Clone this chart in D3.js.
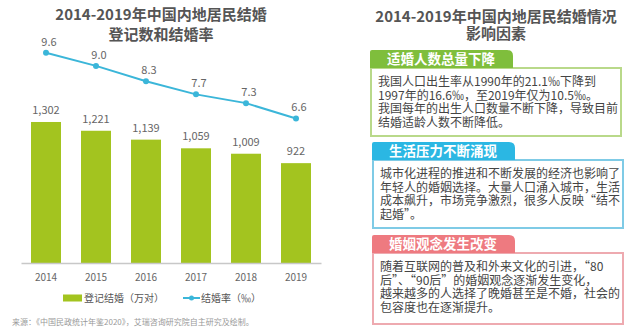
<!DOCTYPE html>
<html>
<head>
<meta charset="utf-8">
<script src="https://cdn.jsdelivr.net/npm/d3@7"></script>
<style>
  body { margin: 0; background: #fff; }
  svg { font-family: "Noto Sans CJK SC", "Noto Sans", sans-serif; display: block; }
</style>
</head>
<body>
<div id="chart"></div>
<script>
// chart data
const years = ["2014", "2015", "2016", "2017", "2018", "2019"];
const marriages = [1302, 1221, 1139, 1059, 1009, 922];   // 万对
const rates = [9.6, 9.0, 8.3, 7.7, 7.3, 6.6];             // ‰
const leftTitle = ["2014-2019年中国内地居民结婚", "登记数和结婚率"];
const legendNames = ["登记结婚（万对）", "结婚率（‰）"];
const sourceNote = "来源：《中国民政统计年鉴2020》，艾瑞咨询研究院自主研究及绘制。";

// right panel text
const rightTitle = ["2014-2019年中国内地居民结婚情况", "影响因素"];
const factorTitles = ["适婚人数总量下降", "生活压力不断涌现", "婚姻观念发生改变"];
const factorLines = [
    ["我国人口出生率从1990年的21.1‰下降到",
     "1997年的16.6‰，至2019年仅为10.5‰。",
     "我国每年的出生人口数量不断下降，导致目前",
     "结婚适龄人数不断降低。"],
    ["城市化进程的推进和不断发展的经济也影响了",
     "年轻人的婚姻选择。大量人口涌入城市，生活",
     "成本飙升，市场竞争激烈，很多人反映“结不",
     "起婚”。"],
    ["随着互联网的普及和外来文化的引进，“80",
     "后”、“90后”的婚姻观念逐渐发生变化，",
     "越来越多的人选择了晚婚甚至是不婚，社会的",
     "包容度也在逐渐提升。"]
];

const barColor = "#a3c41f",
      lineColor = "#3bb6d9",
      tabColors = ["#7fbe3c", "#2bb7e3", "#ee7a80"],
      borderColors = ["#b9d98a", "#7fcbe6", "#eeaab0"];

const W = 641, H = 330;
const svg = d3.select("#chart").append("svg")
    .attr("width", W)
    .attr("height", H);

// ---- left chart ----
const x = d3.scaleBand()
    .domain(years)
    .range([21, 321])
    .paddingInner(0.4)
    .paddingOuter(0.2);
const yBar = d3.scaleLinear().domain([0, 2000]).range([263, 46.4]);
const yLine = d3.scaleLinear().domain([0, 12]).range([263, 0.2]);

svg.selectAll(".ltitle")
    .data(leftTitle)
    .join("text")
    .attr("class", "ltitle")
    .attr("x", 161)
    .attr("y", (d, i) => 20 + i * 20)
    .attr("text-anchor", "middle")
    .attr("font-size", 15)
    .attr("font-weight", "bold")
    .attr("fill", "#555")
    .text(d => d);

svg.selectAll(".bar")
    .data(marriages)
    .join("rect")
    .attr("class", "bar")
    .attr("x", (d, i) => x(years[i]))
    .attr("y", d => yBar(d))
    .attr("width", x.bandwidth())
    .attr("height", d => yBar(0) - yBar(d))
    .attr("fill", barColor);

svg.selectAll(".barlabel")
    .data(marriages)
    .join("text")
    .attr("class", "barlabel")
    .attr("x", (d, i) => x(years[i]) + x.bandwidth() / 2)
    .attr("y", d => yBar(d) - 8)
    .attr("text-anchor", "middle")
    .attr("font-size", 11)
    .attr("fill", "#666")
    .text(d => d3.format(",")(d));

const axis = svg.append("g")
    .attr("transform", "translate(0,263)")
    .call(d3.axisBottom(x).tickSize(0).tickPadding(11));
axis.select(".domain").attr("stroke", "#c8c8c8").attr("stroke-width", 1.5);
axis.selectAll("text")
    .attr("font-size", 10)
    .attr("fill", "#666")
    .attr("font-family", "'Noto Sans CJK SC', sans-serif");

const line = d3.line()
    .x((d, i) => x(years[i]) + x.bandwidth() / 2)
    .y(d => yLine(d));

svg.append("path")
    .datum(rates)
    .attr("d", line)
    .attr("fill", "none")
    .attr("stroke", lineColor)
    .attr("stroke-width", 2);

svg.selectAll(".dot")
    .data(rates)
    .join("circle")
    .attr("class", "dot")
    .attr("cx", (d, i) => x(years[i]) + x.bandwidth() / 2)
    .attr("cy", d => yLine(d))
    .attr("r", 3)
    .attr("fill", lineColor);

svg.selectAll(".ratelabel")
    .data(rates)
    .join("text")
    .attr("class", "ratelabel")
    .attr("x", (d, i) => x(years[i]) + x.bandwidth() / 2 + 3)
    .attr("y", d => yLine(d) - 7)
    .attr("text-anchor", "middle")
    .attr("font-size", 11)
    .attr("fill", "#666")
    .text(d => d.toFixed(1));

// legend
const legend = svg.append("g").attr("transform", "translate(0,298)");
legend.append("rect")
    .attr("x", 63).attr("y", -3.5)
    .attr("width", 19).attr("height", 7)
    .attr("fill", barColor);
legend.append("text")
    .attr("x", 84).attr("y", 3.5)
    .attr("font-size", 10).attr("fill", "#555")
    .text(legendNames[0]);
legend.append("line")
    .attr("x1", 183).attr("x2", 200)
    .attr("stroke", lineColor).attr("stroke-width", 2);
legend.append("circle")
    .attr("cx", 191.5).attr("r", 2.5)
    .attr("fill", lineColor);
legend.append("text")
    .attr("x", 201).attr("y", 3.5)
    .attr("font-size", 10).attr("fill", "#555")
    .text(legendNames[1]);

svg.append("text")
    .attr("x", 12).attr("y", 325)
    .attr("font-size", 8)
    .attr("fill", "#999")
    .text(sourceNote);

// ---- right panel ----
svg.selectAll(".rtitle")
    .data(rightTitle)
    .join("text")
    .attr("class", "rtitle")
    .attr("x", 496)
    .attr("y", (d, i) => 22 + i * 17)
    .attr("text-anchor", "middle")
    .attr("font-size", 15)
    .attr("font-weight", "bold")
    .attr("fill", "#555")
    .text(d => d);

const tabTops = [50, 142, 235];
const boxes = svg.selectAll(".factor")
    .data(factorTitles)
    .join("g")
    .attr("class", "factor")
    .attr("transform", (d, i) => `translate(${i === 0 ? 370 : 372},${tabTops[i]})`);

// tab with a rounded top-right corner
function tabPath(w, h) {
    const r = 6;
    return `M0,${h} L0,2 Q0,0 2,0 L${w - r},0 Q${w},0 ${w},${r} L${w},${h} Z`;
}

boxes.append("rect")
    .attr("x", 1).attr("y", 18)
    .attr("width", 250).attr("height", (d, i) => i === 2 ? 71 : 68)
    .attr("fill", "#fff")
    .attr("stroke", (d, i) => borderColors[i])
    .attr("stroke-width", 2);

boxes.append("path")
    .attr("d", tabPath(143, 18))
    .attr("fill", (d, i) => tabColors[i]);

boxes.append("text")
    .attr("x", 17).attr("y", 14)
    .attr("font-size", 13.5)
    .attr("font-weight", "bold")
    .attr("fill", "#fff")
    .text(d => d);

boxes.each(function(d, i) {
    d3.select(this).selectAll(".ln")
        .data(factorLines[i])
        .join("text")
        .attr("class", "ln")
        .attr("x", 8)
        .attr("y", (t, j) => 36 + j * 13.6)
        .attr("font-size", 12)
        .attr("fill", "#444")
        .text(t => t);
});
</script>
</body>
</html>
